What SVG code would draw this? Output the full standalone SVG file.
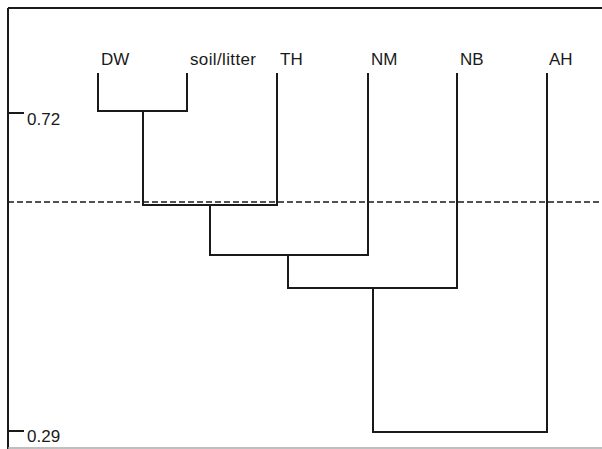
<svg xmlns="http://www.w3.org/2000/svg" width="602" height="449" viewBox="0 0 602 449">
<style>
.ln{stroke:#1a1a1a;stroke-width:2;fill:none}
.lbl{font-family:"Liberation Sans",Arial,sans-serif;font-size:17px;fill:#1a1a1a}
</style>
<rect width="602" height="449" fill="#fff"/>
<g id="axis">
<line class="ln" x1="8" y1="8" x2="602" y2="8"/>
<line class="ln" x1="8" y1="8" x2="8" y2="449"/>
<line x1="8" y1="448" x2="602" y2="448" stroke="#aaa" stroke-width="1.5"/>
<line class="ln" x1="8" y1="113" x2="24" y2="113"/>
<line class="ln" x1="8" y1="431" x2="24" y2="431"/>
<text class="lbl" x="27" y="125">0.72</text>
<text class="lbl" x="27" y="442">0.29</text>
<line x1="8" y1="202" x2="602" y2="202" stroke="#1a1a1a" stroke-width="1.5" stroke-dasharray="6,3"/>
</g>
<g id="DW"><text class="lbl" x="101" y="65">DW</text></g>
<g id="soil-litter"><text class="lbl" x="190" y="65" textLength="66">soil/litter</text></g>
<g id="TH"><text class="lbl" x="280" y="65">TH</text></g>
<g id="NM"><text class="lbl" x="371" y="65">NM</text></g>
<g id="NB"><text class="lbl" x="460" y="65">NB</text></g>
<g id="AH"><text class="lbl" x="549" y="65">AH</text></g>
<g id="connectors">
<path class="ln" d="M98,73 V111 H187 V73"/>
<path class="ln" d="M143,111 V205 H277 V73"/>
<path class="ln" d="M210,205 V255 H368 V73"/>
<path class="ln" d="M288,255 V288 H457 V73"/>
<path class="ln" d="M373,288 V432 H547 V73"/>
</g>
</svg>
